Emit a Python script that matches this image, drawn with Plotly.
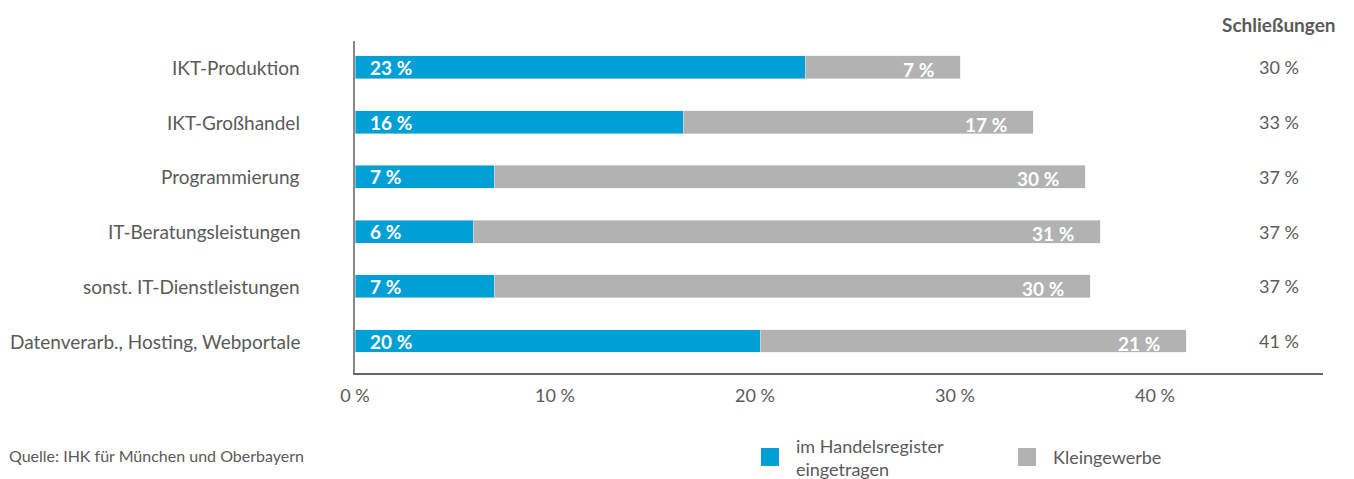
import plotly.graph_objects as go

categories = ["IKT-Produktion", "IKT-Großhandel", "Programmierung",
              "IT-Beratungsleistungen", "sonst. IT-Dienstleistungen",
              "Datenverarb., Hosting, Webportale"]
handelsregister = [22.5, 16.4, 6.95, 5.9, 6.95, 20.25]
kleingewerbe = [7.75, 17.5, 29.55, 31.35, 29.8, 21.3]
handelsregister_labels = ["23 %", "16 %", "7 %", "6 %", "7 %", "20 %"]
kleingewerbe_labels = ["7 %", "17 %", "30 %", "31 %", "30 %", "21 %"]
schliessungen_labels = ["30 %", "33 %", "37 %", "37 %", "37 %", "41 %"]
x_ticks = [0, 10, 20, 30, 40]
x_tick_labels = ["0 %", "10 %", "20 %", "30 %", "40 %"]

BLUE = "#009FD6"
GREY = "#B2B2B2"
TXT = "#5a5a5a"
FONT = "Lato"

W, H = 1354, 479
left, right, top, bottom = 355, 31, 41, 106
dom_w = W - left - right
dom_h = H - top - bottom


def px_to_paper(xp, yp):
    return (xp - left) / dom_w, (H - bottom - yp) / dom_h


ypos = list(range(len(categories)))

fig = go.Figure()
fig.add_trace(go.Bar(y=ypos, x=handelsregister, orientation="h", marker_color=BLUE,
                     width=0.42, name="im Handelsregister eingetragen", hoverinfo="skip"))
fig.add_trace(go.Bar(y=ypos, x=kleingewerbe, orientation="h", marker_color=GREY,
                     width=0.42, name="Kleingewerbe", hoverinfo="skip"))

col_x, _ = px_to_paper(1279, 0)

ann = []
for i, cat in enumerate(categories):
    ann.append(dict(x=0, y=i, xref="paper", yref="y", text=cat, showarrow=False,
                    xanchor="right", xshift=-53, font=dict(size=19, color=TXT, family=FONT)))
    ann.append(dict(x=0, y=i, xref="x", yref="y", text=handelsregister_labels[i], showarrow=False,
                    xanchor="left", xshift=13, font=dict(size=19, color="white", family=FONT, weight="bold")))
    tot = handelsregister[i] + kleingewerbe[i]
    ann.append(dict(x=tot, y=i, xref="x", yref="y", text=kleingewerbe_labels[i], showarrow=False,
                    xanchor="right", xshift=-24, yshift=-2,
                    font=dict(size=19, color="white", family=FONT, weight="bold")))
    ann.append(dict(x=col_x, y=i, xref="paper", yref="y", text=schliessungen_labels[i], showarrow=False,
                    xanchor="center", font=dict(size=18, color=TXT, family=FONT)))

ann.append(dict(x=col_x, y=1, xref="paper", yref="paper", yanchor="bottom", xanchor="center",
                yshift=3, text="<b>Schließungen</b>", showarrow=False,
                font=dict(size=19, color=TXT, family=FONT)))
sx, sy = px_to_paper(7, 455)
ann.append(dict(x=sx, y=sy, xref="paper", yref="paper", text="Quelle: IHK für München und Oberbayern",
                showarrow=False, xanchor="left", yanchor="middle",
                font=dict(size=16, color=TXT, family=FONT)))

shapes = []
for (x0, y0, col) in [(761, 448, BLUE), (1018, 448, GREY)]:
    ax0, ay0 = px_to_paper(x0, y0)
    ax1, ay1 = px_to_paper(x0 + 18, y0 + 18)
    shapes.append(dict(type="rect", xref="paper", yref="paper", x0=ax0, x1=ax1, y0=ay1, y1=ay0,
                       fillcolor=col, line_width=0))
lx, ly = px_to_paper(794, 457)
ann.append(dict(x=lx, y=ly, xref="paper", yref="paper",
                text="im Handelsregister<br>eingetragen", showarrow=False,
                xanchor="left", yanchor="middle", align="left",
                font=dict(size=18, color=TXT, family=FONT)))
lx, ly = px_to_paper(1051, 457)
ann.append(dict(x=lx, y=ly, xref="paper", yref="paper",
                text="Kleingewerbe", showarrow=False,
                xanchor="left", yanchor="middle",
                font=dict(size=18, color=TXT, family=FONT)))

fig.update_layout(
    annotations=ann,
    shapes=shapes,
    barmode="stack",
    width=W, height=H,
    margin=dict(l=left, r=right, t=top, b=bottom),
    paper_bgcolor="white", plot_bgcolor="white",
    showlegend=False,
    font=dict(family=FONT, color=TXT),
    xaxis=dict(range=[0, 48.4], tickvals=x_ticks, ticktext=x_tick_labels, showgrid=False,
               zeroline=False, showline=True, linecolor="#666", linewidth=1.5, mirror=False,
               ticks="", tickfont=dict(size=18, color=TXT, family=FONT), ticklabelstandoff=6),
    yaxis=dict(range=[5.585, -0.484], showticklabels=False, showgrid=False, zeroline=False,
               showline=True, linecolor="#888", linewidth=1.5, ticks=""),
)
fig.write_html("out.html")
